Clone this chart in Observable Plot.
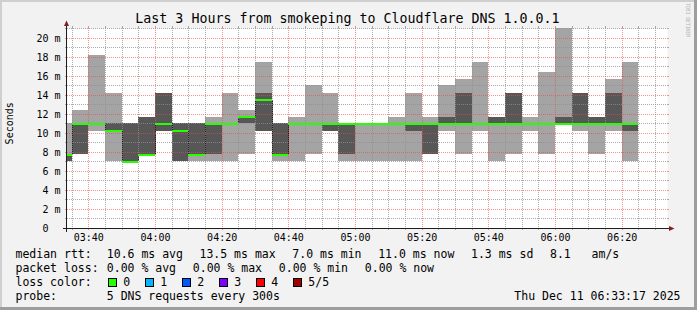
<!DOCTYPE html>
<html>
<head>
<meta charset="utf-8">
<script src="https://cdn.jsdelivr.net/npm/d3@7"></script>
<script src="https://cdn.jsdelivr.net/npm/@observablehq/plot@0.6"></script>
<style>
  html, body { margin: 0; padding: 0; background: #f2f2f2; }
  #chart { width: 697px; height: 310px; }
  svg text { white-space: pre; }
</style>
</head>
<body>
<div id="chart"></div>
<script>
// ---------- data ----------
const day = "2025-12-11";
const times = ["03:30","03:35","03:40","03:45","03:50","03:55","04:00","04:05","04:10","04:15",
               "04:20","04:25","04:30","04:35","04:40","04:45","04:50","04:55","05:00","05:05",
               "05:10","05:15","05:20","05:25","05:30","05:35","05:40","05:45","05:50","05:55",
               "06:00","06:05","06:10","06:15","06:20"];
// five DNS replies per interval, sorted (ms)
const pingMin = [7.0,7.75,10.25,7.0,7.0,7.75,10.25,7.0,7.0,7.0,7.0,7.75,10.25,7.0,7.0,7.75,10.25,7.0,7.0,7.0,
                 7.0,7.0,7.75,10.25,7.75,10.25,7.0,7.75,10.25,7.75,11.0,10.25,7.75,10.25,7.0];
const ping2   = [7.0,7.75,11.0,10.25,7.0,7.75,10.25,7.0,7.75,7.75,11.0,11.0,10.25,7.75,11.0,11.0,10.25,7.75,11.0,11.0,
                 11.0,10.25,7.75,11.0,11.0,11.0,11.0,11.0,11.0,11.0,11.0,11.0,11.0,11.0,10.25];
const median  = [7.75,11.0,11.0,10.25,7.0,7.75,11.0,10.25,7.75,11.0,11.0,11.72,13.5,7.75,11.0,11.0,11.0,11.0,11.0,11.0,
                 11.0,11.0,11.0,11.0,11.0,11.0,11.0,11.0,11.0,11.0,11.0,11.0,11.0,11.0,11.0];
const ping4   = [7.75,11.0,11.0,11.0,11.0,11.72,14.25,11.0,11.0,11.0,11.0,11.72,14.25,11.0,11.0,11.0,11.0,11.0,11.0,11.0,
                 11.0,11.0,11.0,11.72,14.25,11.0,11.72,14.25,11.0,11.0,11.72,14.25,11.72,14.25,11.0];
const pingMax = [11.0,12.46,18.25,14.25,11.0,11.72,14.25,11.0,11.0,11.72,14.25,12.46,17.5,11.0,11.72,15.0,14.25,11.0,11.0,11.0,
                 11.72,14.25,11.72,15.0,15.72,17.5,11.72,14.25,11.72,16.46,21.05,14.25,11.72,15.72,17.5];

const xDomain = ["2025-12-11T03:33:36Z", "2025-12-11T06:33:36Z"];
const yTop = 21.05;
const xTickLabels = ["03:40","04:00","04:20","04:40","05:00","05:20","05:40","06:00","06:20"];
const yTickValues = [0,2,4,6,8,10,12,14,16,18,20];

const titleText = "Last 3 Hours from smokeping to Cloudflare DNS 1.0.0.1";
const yLabel = "Seconds";
const rttStats = ["10.6 ms avg","13.5 ms max","7.0 ms min","11.0 ms now","1.3 ms sd","8.1   am/s"];
const lossStats = ["0.00 % avg","0.00 % max","0.00 % min","0.00 % now"];
const lossLabels = ["0","1","2","3","4","5/5"];
const lossColors = ["#26ff00","#00b8ff","#0059ff","#7e00ff","#ff0000","#a00000"];
const probeText = "5 DNS requests every 300s";
const stampText = "Thu Dec 11 06:33:17 2025";

// ---------- build table ----------
const toDate = s => new Date(`${day}T${s}:00Z`);
const rows = times.map((t, i) => ({
  start: toDate(t),
  end: new Date(+toDate(t) + 5 * 60 * 1000),
  p1: pingMin[i], p2: ping2[i], p3: median[i], p4: ping4[i], p5: pingMax[i]
}));
const transitions = rows.slice(1)
  .map((r, i) => ({t: r.start, a: rows[i].p3, b: r.p3}))
  .filter(d => d.a !== d.b);

const x0 = new Date(xDomain[0]), x1 = new Date(xDomain[1]);
const majorX = xTickLabels.map(toDate);
const majorSet = new Set(majorX.map(Number));
const minorX = d3.utcMinute.every(5).range(x0, x1).filter(d => !majorSet.has(+d));
const majorY = yTickValues.filter(v => v > 0);
const minorY = d3.range(1, 22, 2);

const LIGHT = "#a4a4a4", DARK = "#575757";
const GRID = "rgb(143,143,143)", MGRID = "rgb(222,79,79)";
const MONO = "DejaVu Sans Mono";

const chart = Plot.plot({
  width: 697, height: 310,
  marginLeft: 67, marginRight: 30, marginTop: 28, marginBottom: 82,
  style: {background: "#f2f2f2", fontFamily: MONO, fontSize: "10px", color: "#000", overflow: "visible"},
  x: {type: "utc", domain: [x0, x1], label: null},
  y: {domain: [0, yTop], label: null},
  marks: [
    Plot.frame({fill: "#ffffff", stroke: null}),
    Plot.rect(rows, {x1: "start", x2: "end", y1: "p1", y2: "p2", fill: LIGHT, clip: true, shapeRendering: "crispEdges"}),
    Plot.rect(rows, {x1: "start", x2: "end", y1: "p4", y2: "p5", fill: LIGHT, clip: true, shapeRendering: "crispEdges"}),
    Plot.rect(rows, {x1: "start", x2: "end", y1: "p2", y2: "p4", fill: DARK, clip: true, shapeRendering: "crispEdges"}),
    Plot.ruleX(transitions, {x: "t", y1: "a", y2: "b", stroke: "#202020", shapeRendering: "crispEdges"}),
    Plot.ruleX(minorX, {stroke: GRID, strokeOpacity: 0.75, strokeDasharray: "1,1", shapeRendering: "crispEdges"}),
    Plot.ruleY(minorY, {stroke: GRID, strokeOpacity: 0.75, strokeDasharray: "1,1", shapeRendering: "crispEdges"}),
    Plot.ruleX(majorX, {stroke: MGRID, strokeOpacity: 0.6, strokeDasharray: "1,1", shapeRendering: "crispEdges"}),
    Plot.ruleY(majorY, {stroke: MGRID, strokeOpacity: 0.6, strokeDasharray: "1,1", shapeRendering: "crispEdges"}),
    Plot.ruleY(rows, {x1: "start", x2: "end", y: "p3", stroke: "#26ff00", strokeWidth: 2, clip: true, shapeRendering: "crispEdges"}),
    Plot.axisX(majorX, {anchor: "bottom", tickSize: 0, tickPadding: 5.5, tickFormat: d3.utcFormat("%H:%M"),
                        fontSize: 10, fontFamily: MONO, label: null}),
    Plot.axisY(yTickValues, {anchor: "left", tickSize: 0, tickPadding: 7,
                        tickFormat: d => d === 0 ? "0\u00a0\u00a0" : d + " m",
                        fontSize: 10, fontFamily: MONO, label: null})
  ]
});
document.getElementById("chart").appendChild(chart);

// ---------- decorations (rrdtool look) ----------
const svg = d3.select(chart);
const xs = chart.scale("x"), ys = chart.scale("y");
const L = 67, R = 667, T = 28, B = 228;

// 3D border
svg.insert("rect", ":first-child").attr("x", 0).attr("y", 0).attr("width", 697).attr("height", 2).attr("fill", "#cfcfcf");
svg.insert("rect", ":first-child").attr("x", 0).attr("y", 0).attr("width", 2).attr("height", 310).attr("fill", "#cfcfcf");
svg.append("rect").attr("x", 0).attr("y", 307).attr("width", 697).attr("height", 3).attr("fill", "#9e9e9e");
svg.append("rect").attr("x", 694).attr("y", 0).attr("width", 3).attr("height", 310).attr("fill", "#9e9e9e");

// grid tick stubs outside the canvas
const stubs = svg.append("g").attr("shape-rendering", "crispEdges");
function xStub(t, color, op) {
  const px = Math.round(xs.apply(t)) + 0.5;
  stubs.append("line").attr("x1", px).attr("x2", px).attr("y1", B).attr("y2", B + 2).attr("stroke", color).attr("stroke-opacity", op);
  stubs.append("line").attr("x1", px).attr("x2", px).attr("y1", T - 2).attr("y2", T).attr("stroke", color).attr("stroke-opacity", op);
}
function yStub(v, color, op) {
  const py = Math.round(ys.apply(v)) + 0.5;
  stubs.append("line").attr("x1", L - 2).attr("x2", L).attr("y1", py).attr("y2", py).attr("stroke", color).attr("stroke-opacity", op);
  stubs.append("line").attr("x1", R).attr("x2", R + 2).attr("y1", py).attr("y2", py).attr("stroke", color).attr("stroke-opacity", op);
}
minorX.forEach(t => xStub(t, GRID, 0.75));
majorX.forEach(t => xStub(t, MGRID, 0.6));
minorY.forEach(v => yStub(v, GRID, 0.75));
majorY.forEach(v => yStub(v, MGRID, 0.6));

// axes + arrows
const axisCol = "#1f1f1f", arrowCol = "rgb(128,31,31)";
svg.append("line").attr("x1", L - 4).attr("x2", R + 4).attr("y1", B + 0.5).attr("y2", B + 0.5)
  .attr("stroke", axisCol).attr("shape-rendering", "crispEdges");
svg.append("line").attr("x1", L - 0.5).attr("x2", L - 0.5).attr("y1", B + 4).attr("y2", T - 4)
  .attr("stroke", axisCol).attr("shape-rendering", "crispEdges");
svg.append("path").attr("d", `M${L - 3},${T - 2}L${L + 2},${T - 2}L${L - 0.5},${T - 7.5}Z`).attr("fill", arrowCol);
svg.append("path").attr("d", `M${R + 2},${B - 2}L${R + 2},${B + 3}L${R + 7.5},${B + 0.5}Z`).attr("fill", arrowCol);

// texts
function txt(x, y, s, size, anchor = "start", fill = "#000") {
  return svg.append("text").attr("x", x).attr("y", y).attr("font-family", MONO)
    .attr("font-size", size).attr("text-anchor", anchor).attr("fill", fill).text(s);
}
txt(347.5, 23, titleText, 13.3, "middle");
svg.append("text").attr("transform", "translate(13.3,123.3) rotate(-90)")
  .attr("font-family", MONO).attr("font-size", 10).attr("text-anchor", "middle").attr("fill", "#000").text(yLabel);
svg.append("text").attr("x", 687.5).attr("y", 6)
  .style("writing-mode", "vertical-rl")
  .attr("font-family", MONO).attr("font-size", 5.8).attr("fill", "#b4b4b4")
  .attr("textLength", 62).attr("lengthAdjust", "spacingAndGlyphs").text("RRDTOOL / TOBI OETIKER");

const FS = 11.5;
const b1 = 258.3, b2 = 272.2, b3 = 286.1, b4 = 300;
txt(15.5, b1, "median rtt:", FS);
const rttX = [106.8, 199.5, 292.3, 378.2, 471, 550];
rttStats.forEach((s, i) => txt(rttX[i], b1, s, FS));
txt(15.5, b2, "packet loss:", FS);
const lossX = [106.8, 192.8, 278.8, 364.8];
lossStats.forEach((s, i) => txt(lossX[i], b2, s, FS));
txt(15.5, b3, "loss color:", FS);
lossLabels.forEach((s, i) => {
  const bx = 108 + 37 * i;
  svg.append("rect").attr("x", bx + 0.5).attr("y", 278.5).attr("width", 7.5).attr("height", 7.5)
    .attr("fill", lossColors[i]).attr("stroke", "#000").attr("stroke-width", 1).attr("shape-rendering", "crispEdges");
  txt(bx + 15.3, b3, s, FS);
});
txt(15.5, b4, "probe:", FS);
txt(106.8, b4, probeText, FS);
txt(680.5, b4, stampText, FS, "end");
</script>
</body>
</html>
